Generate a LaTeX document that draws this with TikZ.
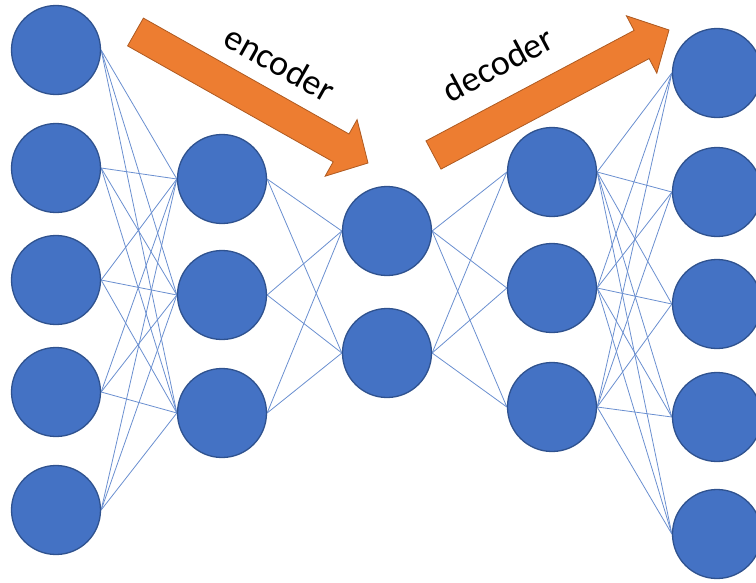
\documentclass[tikz,border=0pt]{standalone}
\usepackage{fontspec}
\setmainfont{Carlito}
\usetikzlibrary{backgrounds}
\definecolor{nodeblue}{HTML}{4472C4}
\definecolor{nodeedge}{HTML}{2F528F}
\definecolor{arrorange}{HTML}{ED7D31}
\definecolor{arredge}{HTML}{AE5A21}
\definecolor{linkblue}{HTML}{6A8FD0}
\begin{document}
\begin{tikzpicture}[x=1pt,y=-1pt,
  neuron/.style={circle,fill=nodeblue,draw=nodeedge,line width=1.3pt,minimum size=89pt,inner sep=0pt},
  link/.style={draw=linkblue,line width=0.8pt},
  bigarrow/.style={fill=arrorange,draw=arredge,line width=0.8pt,line join=miter},
  lbl/.style={font=\fontsize{36}{42}\selectfont,text=black,inner sep=0pt}]
\useasboundingbox (0,0) rectangle (756,582);
% column 1
\node[neuron] (a1) at (56,50) {};
\node[neuron] (a2) at (56,168) {};
\node[neuron] (a3) at (56,280) {};
\node[neuron] (a4) at (56,392) {};
\node[neuron] (a5) at (56,510) {};
% column 2
\node[neuron] (b1) at (222,179) {};
\node[neuron] (b2) at (222,295) {};
\node[neuron] (b3) at (222,413) {};
% column 3
\node[neuron] (c1) at (387,231) {};
\node[neuron] (c2) at (387,353) {};
% column 4
\node[neuron] (d1) at (552,172) {};
\node[neuron] (d2) at (552,288) {};
\node[neuron] (d3) at (552,407) {};
% column 5
\node[neuron] (e1) at (717,73) {};
\node[neuron] (e2) at (717,192) {};
\node[neuron] (e3) at (717,304) {};
\node[neuron] (e4) at (717,417) {};
\node[neuron] (e5) at (717,534) {};
% links
\begin{pgfonlayer}{background}
\foreach \s in {a1,a2,a3,a4,a5}{\foreach \t in {b1,b2,b3}{\draw[link] (\s.east) -- (\t.west);}}
\foreach \s in {b1,b2,b3}{\foreach \t in {c1,c2}{\draw[link] (\s.east) -- (\t.west);}}
\foreach \s in {c1,c2}{\foreach \t in {d1,d2,d3}{\draw[link] (\s.east) -- (\t.west);}}
\foreach \s in {d1,d2,d3}{\foreach \t in {e1,e2,e3,e4,e5}{\draw[link] (\s.east) -- (\t.west);}}
\end{pgfonlayer}
% encoder arrow
\draw[bigarrow] (143.4,18.1) -- (349.0,134.0) -- (357.1,119.6) -- (368,163) -- (325.1,176.2) -- (333.2,161.8) -- (127.6,45.9) -- cycle;
% decoder arrow
\draw[bigarrow] (426,140.9) -- (634.1,30.4) -- (626.4,15.8) -- (669,30) -- (656.8,73.2) -- (649.1,58.6) -- (441,169.1) -- cycle;
\node[lbl,rotate=-29.4] (enc) at (280,63) {encoder};
\node[lbl,rotate=28] (dec) at (498,64) {decoder};
\end{tikzpicture}
\end{document}
